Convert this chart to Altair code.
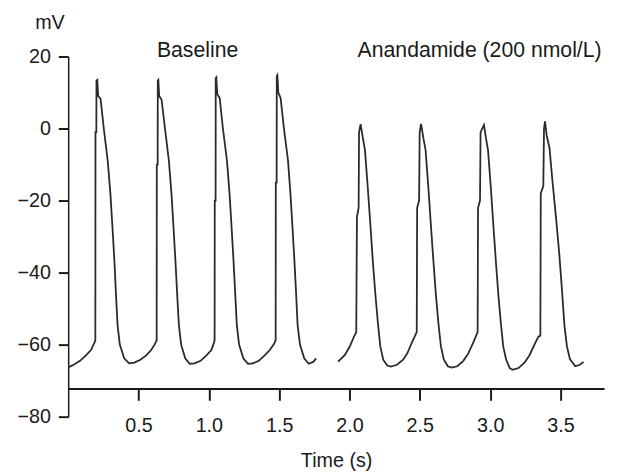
import altair as alt
import pandas as pd

# Baseline trace (time in s, membrane potential in mV)
base_t = [0.000, 0.042, 0.084, 0.126, 0.162, 0.186, 0.193, 0.194, 0.200, 0.201, 0.207, 0.213, 0.230, 0.253, 0.281,
          0.300, 0.314, 0.328, 0.339, 0.351, 0.367, 0.398, 0.433, 0.471, 0.513, 0.555, 0.590, 0.614, 0.629,
          0.630, 0.636, 0.637, 0.641, 0.647, 0.664, 0.688, 0.716, 0.734, 0.748, 0.762, 0.774, 0.787, 0.803,
          0.832, 0.864, 0.899, 0.941, 0.983, 1.018, 1.032, 1.041,
          1.042, 1.048, 1.049, 1.053, 1.060, 1.077, 1.100, 1.129, 1.147, 1.161, 1.175, 1.187, 1.199, 1.215,
          1.245, 1.278, 1.313, 1.355, 1.397, 1.433, 1.461, 1.475,
          1.476, 1.482, 1.483, 1.487, 1.494, 1.510, 1.534, 1.563, 1.580, 1.594, 1.608, 1.620, 1.631, 1.648,
          1.678, 1.710, 1.742, 1.763]
base_v = [-66.3, -65.5, -64.5, -63.0, -61.5, -59.5, -58.8, -1.0, -1.0, 13.3, 13.5, 9.0, 8.3, 0.0, -9.0,
          -18.0, -27.0, -36.4, -45.5, -54.6, -60.0, -63.8, -65.2, -65.0, -64.2, -63.0, -61.5, -60.0, -58.8,
          -10.0, -10.0, 13.3, 13.5, 9.0, 8.0, 0.0, -9.0, -18.0, -27.0, -36.4, -45.5, -54.6, -60.0,
          -63.8, -65.3, -65.2, -64.5, -63.0, -61.5, -60.0, -58.8,
          -20.0, -20.0, 14.0, 14.2, 9.5, 8.5, 0.0, -9.0, -18.0, -27.0, -36.4, -45.5, -54.6, -60.0,
          -63.8, -65.3, -65.2, -64.5, -63.0, -61.5, -60.0, -58.8,
          -15.0, -15.0, 14.5, 14.8, 10.0, 8.5, 0.0, -9.0, -18.0, -27.0, -36.4, -45.5, -54.6, -60.0,
          -63.8, -65.3, -64.8, -63.8]

# Anandamide (200 nmol/L) trace
anan_t = [1.919, 1.966, 2.001, 2.032, 2.048, 2.053, 2.065, 2.068, 2.079, 2.095, 2.110, 2.131, 2.149, 2.166,
          2.184, 2.202, 2.219, 2.240, 2.268, 2.294, 2.338, 2.381, 2.411, 2.446, 2.478,
          2.481, 2.495, 2.499, 2.509, 2.525, 2.541, 2.562, 2.579, 2.597, 2.614, 2.632, 2.650, 2.671, 2.699,
          2.725, 2.767, 2.809, 2.844, 2.879, 2.911,
          2.914, 2.928, 2.932, 2.956, 2.970, 2.985, 3.006, 3.023, 3.041, 3.058, 3.076, 3.093, 3.114, 3.139,
          3.160, 3.202, 3.244, 3.279, 3.315, 3.343, 3.357,
          3.360, 3.378, 3.383, 3.390, 3.402, 3.422, 3.444, 3.469, 3.492, 3.511, 3.529, 3.546, 3.567, 3.605,
          3.638, 3.664]
anan_v = [-64.7, -62.9, -60.6, -57.8, -56.5, -24.5, -22.0, -1.0, 1.2, -2.6, -6.0, -17.0, -27.0, -37.0,
          -46.0, -54.0, -60.5, -64.2, -65.8, -66.1, -65.6, -64.2, -62.4, -59.2, -56.5,
          -22.0, -20.0, -1.0, 1.3, -2.6, -6.0, -17.0, -27.0, -37.0, -46.0, -54.0, -60.5, -64.2, -66.0,
          -66.4, -66.0, -64.5, -62.5, -59.5, -56.5,
          -22.0, -20.0, -1.0, 1.0, -2.6, -6.0, -17.0, -27.0, -37.0, -46.0, -54.0, -60.5, -64.2, -66.5,
          -67.0, -66.5, -65.0, -63.0, -60.0, -57.8, -57.5,
          -18.0, -16.0, 0.0, 2.0, -2.0, -5.4, -15.0, -25.0, -35.0, -45.0, -55.0, -60.5, -64.0, -66.0,
          -65.6, -64.8]

# Annotations
label_text = ["Baseline", "Anandamide (200 nmol/L)"]
label_t = [0.92, 2.925]
label_v = [21.6, 21.6]

x_ticks = [0.5, 1.0, 1.5, 2.0, 2.5, 3.0, 3.5]
y_ticks = [-80, -60, -40, -20, 0, 20]

FONT = "Liberation Sans"
INK = "#1a1a1a"

trace = pd.concat([
    pd.DataFrame({"t": base_t, "v": base_v, "series": "Baseline"}),
    pd.DataFrame({"t": anan_t, "v": anan_v, "series": "Anandamide"}),
], ignore_index=True)
trace["i"] = range(len(trace))

labels = pd.DataFrame({"t": label_t, "v": label_v, "text": label_text})

x_scale = alt.Scale(domain=[0, 3.81], nice=False, zero=False)
y_scale = alt.Scale(domain=[-80, 20], nice=False, zero=False)

lines = alt.Chart(trace).mark_line(color="#2a2a2a", strokeWidth=1.8, clip=False).encode(
    x=alt.X("t:Q", scale=x_scale, axis=alt.Axis(
        values=x_ticks, format=".1f", offset=-28.6, grid=False,
        tickSize=12, tickWidth=2, tickColor=INK, domainWidth=2, domainColor=INK,
        labelPadding=16, labelFontSize=20, labelFont=FONT, labelColor=INK,
        title="Time (s)", titleFont=FONT, titleFontSize=20, titleFontWeight="normal",
        titleColor=INK, titlePadding=15)),
    y=alt.Y("v:Q", scale=y_scale, axis=alt.Axis(
        values=y_ticks, grid=False,
        tickSize=10, tickWidth=2, tickColor=INK, domainWidth=1.5, domainColor=INK,
        labelPadding=8, labelFontSize=20, labelFont=FONT, labelColor=INK,
        title="mV", titleAngle=0, titleX=-19, titleY=-34, titleAlign="center",
        titleBaseline="middle", titleFont=FONT, titleFontSize=20,
        titleFontWeight="normal", titleColor=INK)),
    detail="series:N",
    order="i:Q",
)

text = alt.Chart(labels).mark_text(font=FONT, fontSize=21.5, color=INK, baseline="middle",
                                   align="center").encode(
    x=alt.X("t:Q", scale=x_scale),
    y=alt.Y("v:Q", scale=y_scale),
    text="text:N",
)

chart = alt.layer(lines, text).properties(
    width=543, height=365,
    padding={"left": 61, "top": 46, "right": 5, "bottom": 57},
    autosize="none",
).configure_view(stroke=None)

chart.save("out.html", embed_options={"renderer": "svg", "actions": False})
